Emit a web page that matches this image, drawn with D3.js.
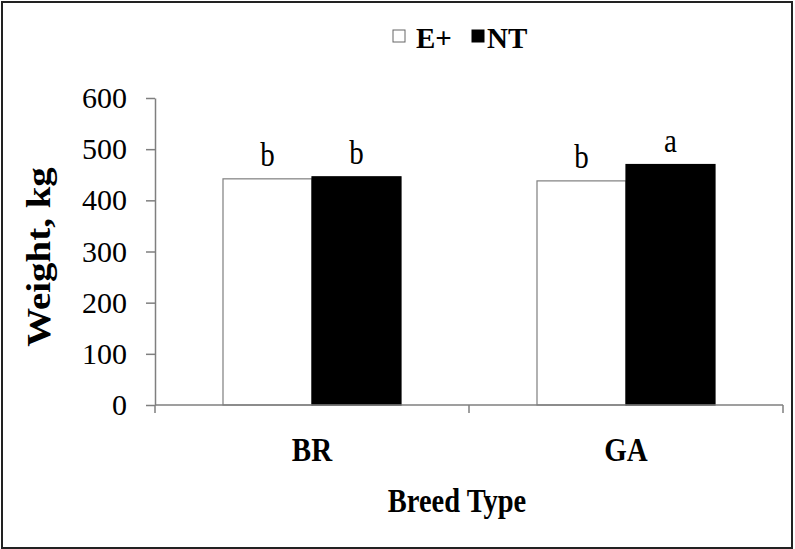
<!DOCTYPE html>
<html><head><meta charset="utf-8">
<script src="https://cdn.jsdelivr.net/npm/d3@7"></script>
<style>
html,body{margin:0;padding:0;background:#fff;}
svg{display:block;}
text{font-family:"Liberation Serif","Times New Roman",serif;fill:#000;}
</style></head>
<body>
<svg id="chart" width="795" height="549"></svg>
<script>
const categories = ["BR", "GA"];
const series = ["E+", "NT"];
const valuesEplus = [442, 438];
const valuesNT = [446, 470];
const letters = [["b", "b"], ["b", "a"]]; // per category: [E+, NT]
const yTicks = [0, 100, 200, 300, 400, 500, 600];
const yLabel = "Weight, kg";
const xLabel = "Breed Type";

const svg = d3.select("#chart");
const axisColor = "#7f7f7f";

// outer frame
svg.append("rect").attr("x", 2).attr("y", 2).attr("width", 790).attr("height", 546)
  .attr("fill", "#fff").attr("stroke", "#222").attr("stroke-width", 2);

const y = d3.scaleLinear().domain([0, 600]).range([405, 98]);
const x0 = d3.scaleBand().domain(categories).range([155, 783]).padding(0);
const x1 = d3.scaleBand().domain(series).range([0, x0.bandwidth()]).paddingInner(0).paddingOuter(0.764);

const data = categories.map((c, i) => ({
  cat: c,
  vals: [
    {s: "E+", v: valuesEplus[i], lab: letters[i][0]},
    {s: "NT", v: valuesNT[i], lab: letters[i][1]}
  ]
}));

const fills = {"E+": "#fff", "NT": "#000"};
const strokes = {"E+": axisColor, "NT": "#000"};

const groups = svg.selectAll("g.cat").data(data).join("g").attr("class", "cat")
  .attr("transform", d => `translate(${x0(d.cat)},0)`);

groups.selectAll("rect").data(d => d.vals).join("rect")
  .attr("x", d => x1(d.s))
  .attr("y", d => y(d.v))
  .attr("width", x1.bandwidth())
  .attr("height", d => y(0) - y(d.v))
  .attr("fill", d => fills[d.s])
  .attr("stroke", d => strokes[d.s])
  .attr("stroke-width", 1.2);

// significance letters (vertically stretched like the original)
groups.selectAll("g.lab").data(d => d.vals).join("g").attr("class", "lab")
  .attr("transform", d => `translate(${x1(d.s) + x1.bandwidth() / 2},${y(d.v) - 13}) scale(1,1.17)`)
  .append("text").attr("text-anchor", "middle").attr("font-size", 29).text(d => d.lab);

// y axis
const yAxis = svg.append("g").attr("transform", "translate(155,0)")
  .call(d3.axisLeft(y).tickValues(yTicks).tickSize(9).tickPadding(19).tickSizeOuter(0));
yAxis.select(".domain").attr("stroke", axisColor).attr("stroke-width", 1.5);
yAxis.selectAll(".tick line").attr("stroke", axisColor).attr("stroke-width", 1.5);
yAxis.selectAll(".tick text").attr("font-family", "Liberation Serif, serif").attr("font-size", 30).attr("fill", "#000");

// x axis
const xAxis = svg.append("g");
xAxis.append("line").attr("x1", x0.range()[0]).attr("x2", x0.range()[1])
  .attr("y1", y(0)).attr("y2", y(0)).attr("stroke", axisColor).attr("stroke-width", 1.5);
const bounds = [x0(categories[0])].concat(categories.map(c => x0(c) + x0.bandwidth()));
xAxis.selectAll("line.tk").data(bounds).join("line").attr("class", "tk")
  .attr("x1", d => d).attr("x2", d => d).attr("y1", y(0)).attr("y2", y(0) + 8)
  .attr("stroke", axisColor).attr("stroke-width", 1.5);

// category labels
svg.selectAll("g.catlab").data(categories).join("g").attr("class", "catlab")
  .attr("transform", d => `translate(${x0(d) + x0.bandwidth() / 2},461) scale(1,1.15)`)
  .append("text").attr("text-anchor", "middle").attr("font-size", 29).attr("font-weight", "bold").text(d => d);

// x title
svg.append("g").attr("transform", "translate(457,512) scale(1,1.15)")
  .append("text").attr("text-anchor", "middle").attr("font-size", 28.5).attr("font-weight", "bold").text(xLabel);

// y title
svg.append("g").attr("transform", "translate(50,257) scale(1,1.18) rotate(-90)")
  .append("text").attr("text-anchor", "middle").attr("font-size", 33).attr("font-weight", "bold").text(yLabel);

// legend
const legendItems = [
  {s: "E+", bx: 393, tx: 416},
  {s: "NT", bx: 472, tx: 487}
];
const leg = svg.append("g");
leg.selectAll("rect").data(legendItems).join("rect")
  .attr("x", d => d.bx).attr("y", 30).attr("width", 12).attr("height", 12)
  .attr("fill", d => fills[d.s]).attr("stroke", d => d.s === "E+" ? "#666" : "#000").attr("stroke-width", 1);
leg.selectAll("text").data(legendItems).join("text")
  .attr("x", d => d.tx).attr("y", 47.5).attr("font-size", 29).attr("font-weight", "bold").text(d => d.s);
</script>
</body></html>
